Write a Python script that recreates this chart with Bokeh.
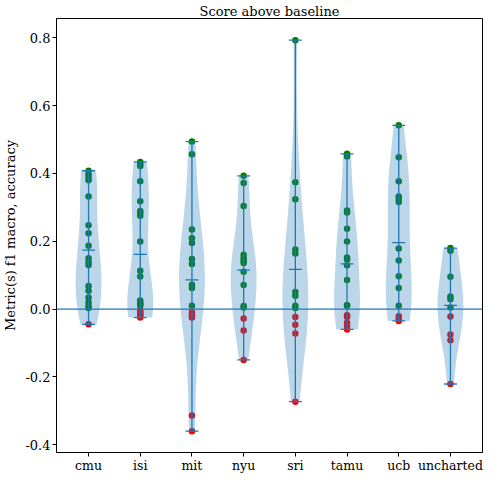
import numpy as np
from bokeh.plotting import figure
from bokeh.models import (Range1d, FixedTicker, PrintfTickFormatter, Span, ColumnDataSource,
                          LinearAxis)
from bokeh.embed import file_html
from bokeh.resources import INLINE

# ---- data ----
sites = ["cmu", "isi", "mit", "nyu", "sri", "tamu", "ucb", "uncharted"]
cmu = [0.408, 0.398, 0.389, 0.380, 0.332, 0.247, 0.224, 0.187, 0.150, 0.139, 0.130,
       0.068, 0.054, 0.034, 0.020, 0.009, 0.003, -0.045]
isi = [0.434, 0.428, 0.422, 0.377, 0.318, 0.289, 0.283, 0.275, 0.199, 0.113, 0.096,
       0.025, 0.018, 0.015, 0.010, -0.004, -0.010, -0.015, -0.018, -0.025]
mit = [0.494, 0.457, 0.235, 0.209, 0.195, 0.148, 0.133, 0.072, 0.062, 0.010,
       -0.009, -0.018, -0.025, -0.314, -0.360]
nyu = [0.393, 0.372, 0.304, 0.160, 0.150, 0.142, 0.136, 0.110, 0.071, 0.009, 0.005,
       -0.028, -0.063, -0.150]
sri = [0.793, 0.374, 0.324, 0.176, 0.164, 0.050, 0.039, 0.010, 0.003,
       -0.023, -0.046, -0.072, -0.273]
tamu = [0.458, 0.450, 0.291, 0.285, 0.237, 0.199, 0.152, 0.146, 0.129, 0.086, 0.012,
        0.010, -0.018, -0.023, -0.040, -0.050, -0.060]
ucb = [0.542, 0.448, 0.377, 0.332, 0.325, 0.316, 0.179, 0.143, 0.097, 0.062, 0.010,
       -0.021, -0.030, -0.035]
uncharted = [0.180, 0.172, 0.095, 0.037, 0.029, 0.005, -0.022, -0.075, -0.092, -0.221]
scores = [cmu, isi, mit, nyu, sri, tamu, ucb, uncharted]
y_ticks = [-0.4, -0.2, 0.0, 0.2, 0.4, 0.6, 0.8]
title_text = "Score above baseline"

BLUE = "#1f77b4"
FONT = "DejaVu Serif"
X0, X1, Y0, Y1 = 0.38, 8.62, -0.423, 0.857

p = figure(width=484, height=475, output_backend="svg", toolbar_location=None,
           x_range=Range1d(X0, X1), y_range=Range1d(Y0, Y1),
           min_border_left=4, min_border_right=2, min_border_top=2, min_border_bottom=2)
p.background_fill_color = "white"
p.border_fill_color = "white"
p.outline_line_color = "black"
p.outline_line_width = 1
p.outline_line_alpha = 1
p.xgrid.visible = False
p.ygrid.visible = False

# title: label of a bare axis placed above the frame
top = LinearAxis(axis_label=title_text, ticker=FixedTicker(ticks=[]),
                 axis_line_color=None, major_tick_line_color=None,
                 minor_tick_line_color=None, major_label_text_alpha=0,
                 major_label_text_font_size="1px",
                 axis_label_text_font=FONT, axis_label_text_font_size="13px",
                 axis_label_text_font_style="normal", axis_label_text_color="black",
                 axis_label_standoff=0, major_tick_out=0, major_tick_in=0,
                 major_label_standoff=0)
p.add_layout(top, "above")

positions = list(range(1, len(sites) + 1))

# points (drawn under the violins)
for pos, vals in zip(positions, scores):
    v = np.array(vals)
    cols = ["green" if x >= 0 else "red" for x in v]
    src = ColumnDataSource(dict(x=[pos] * len(v), y=v, c=cols))
    p.scatter("x", "y", source=src, size=6.5, color="c", line_color=None)

# violins (gaussian KDE, Scott's rule, like matplotlib)
for pos, vals in zip(positions, scores):
    v = np.array(vals)
    n = len(v)
    bw = np.std(v, ddof=1) * n ** (-1.0 / 5)
    coords = np.linspace(v.min(), v.max(), 100)
    dens = np.exp(-0.5 * ((coords[:, None] - v[None, :]) / bw) ** 2).sum(axis=1)
    half = 0.25 * dens / dens.max()
    xs = np.concatenate([pos - half, (pos + half)[::-1]])
    ys = np.concatenate([coords, coords[::-1]])
    p.patch(xs, ys, fill_color=BLUE, fill_alpha=0.3, line_color=None)

# bars, extrema and means
for pos, vals in zip(positions, scores):
    v = np.array(vals)
    p.segment(x0=[pos], y0=[v.min()], x1=[pos], y1=[v.max()], line_color=BLUE, line_width=1.3)
    for yy in (v.min(), v.max(), v.mean()):
        p.segment(x0=[pos - 0.125], y0=[yy], x1=[pos + 0.125], y1=[yy],
                  line_color=BLUE, line_width=1.3)

p.add_layout(Span(location=0, dimension="width", line_color=BLUE, line_width=1.2))

# axes
p.xaxis.ticker = FixedTicker(ticks=positions)
p.xaxis.major_label_overrides = {pos: s for pos, s in zip(positions, sites)}
p.yaxis.ticker = FixedTicker(ticks=y_ticks)
p.yaxis.formatter = PrintfTickFormatter(format="%.1f")
p.yaxis.axis_label = "Metric(s) f1 macro, accuracy"
for ax in (p.below[0], p.left[0]):
    ax.axis_line_color = "black"
    ax.major_tick_line_color = "black"
    ax.major_tick_in = 0
    ax.major_tick_out = 4
    ax.minor_tick_line_color = None
    ax.major_label_text_font = FONT
    ax.major_label_text_font_size = "13px"
    ax.major_label_text_color = "black"
    ax.major_label_standoff = 2
    ax.axis_label_text_font = FONT
    ax.axis_label_text_font_size = "13px"
    ax.axis_label_text_font_style = "normal"
    ax.axis_label_text_color = "black"
    ax.axis_label_standoff = 4
p.below[0].major_label_standoff = 1
p.below[0].major_label_text_font_size = "12.5px"

open("out.html", "w").write(file_html(p, INLINE))
